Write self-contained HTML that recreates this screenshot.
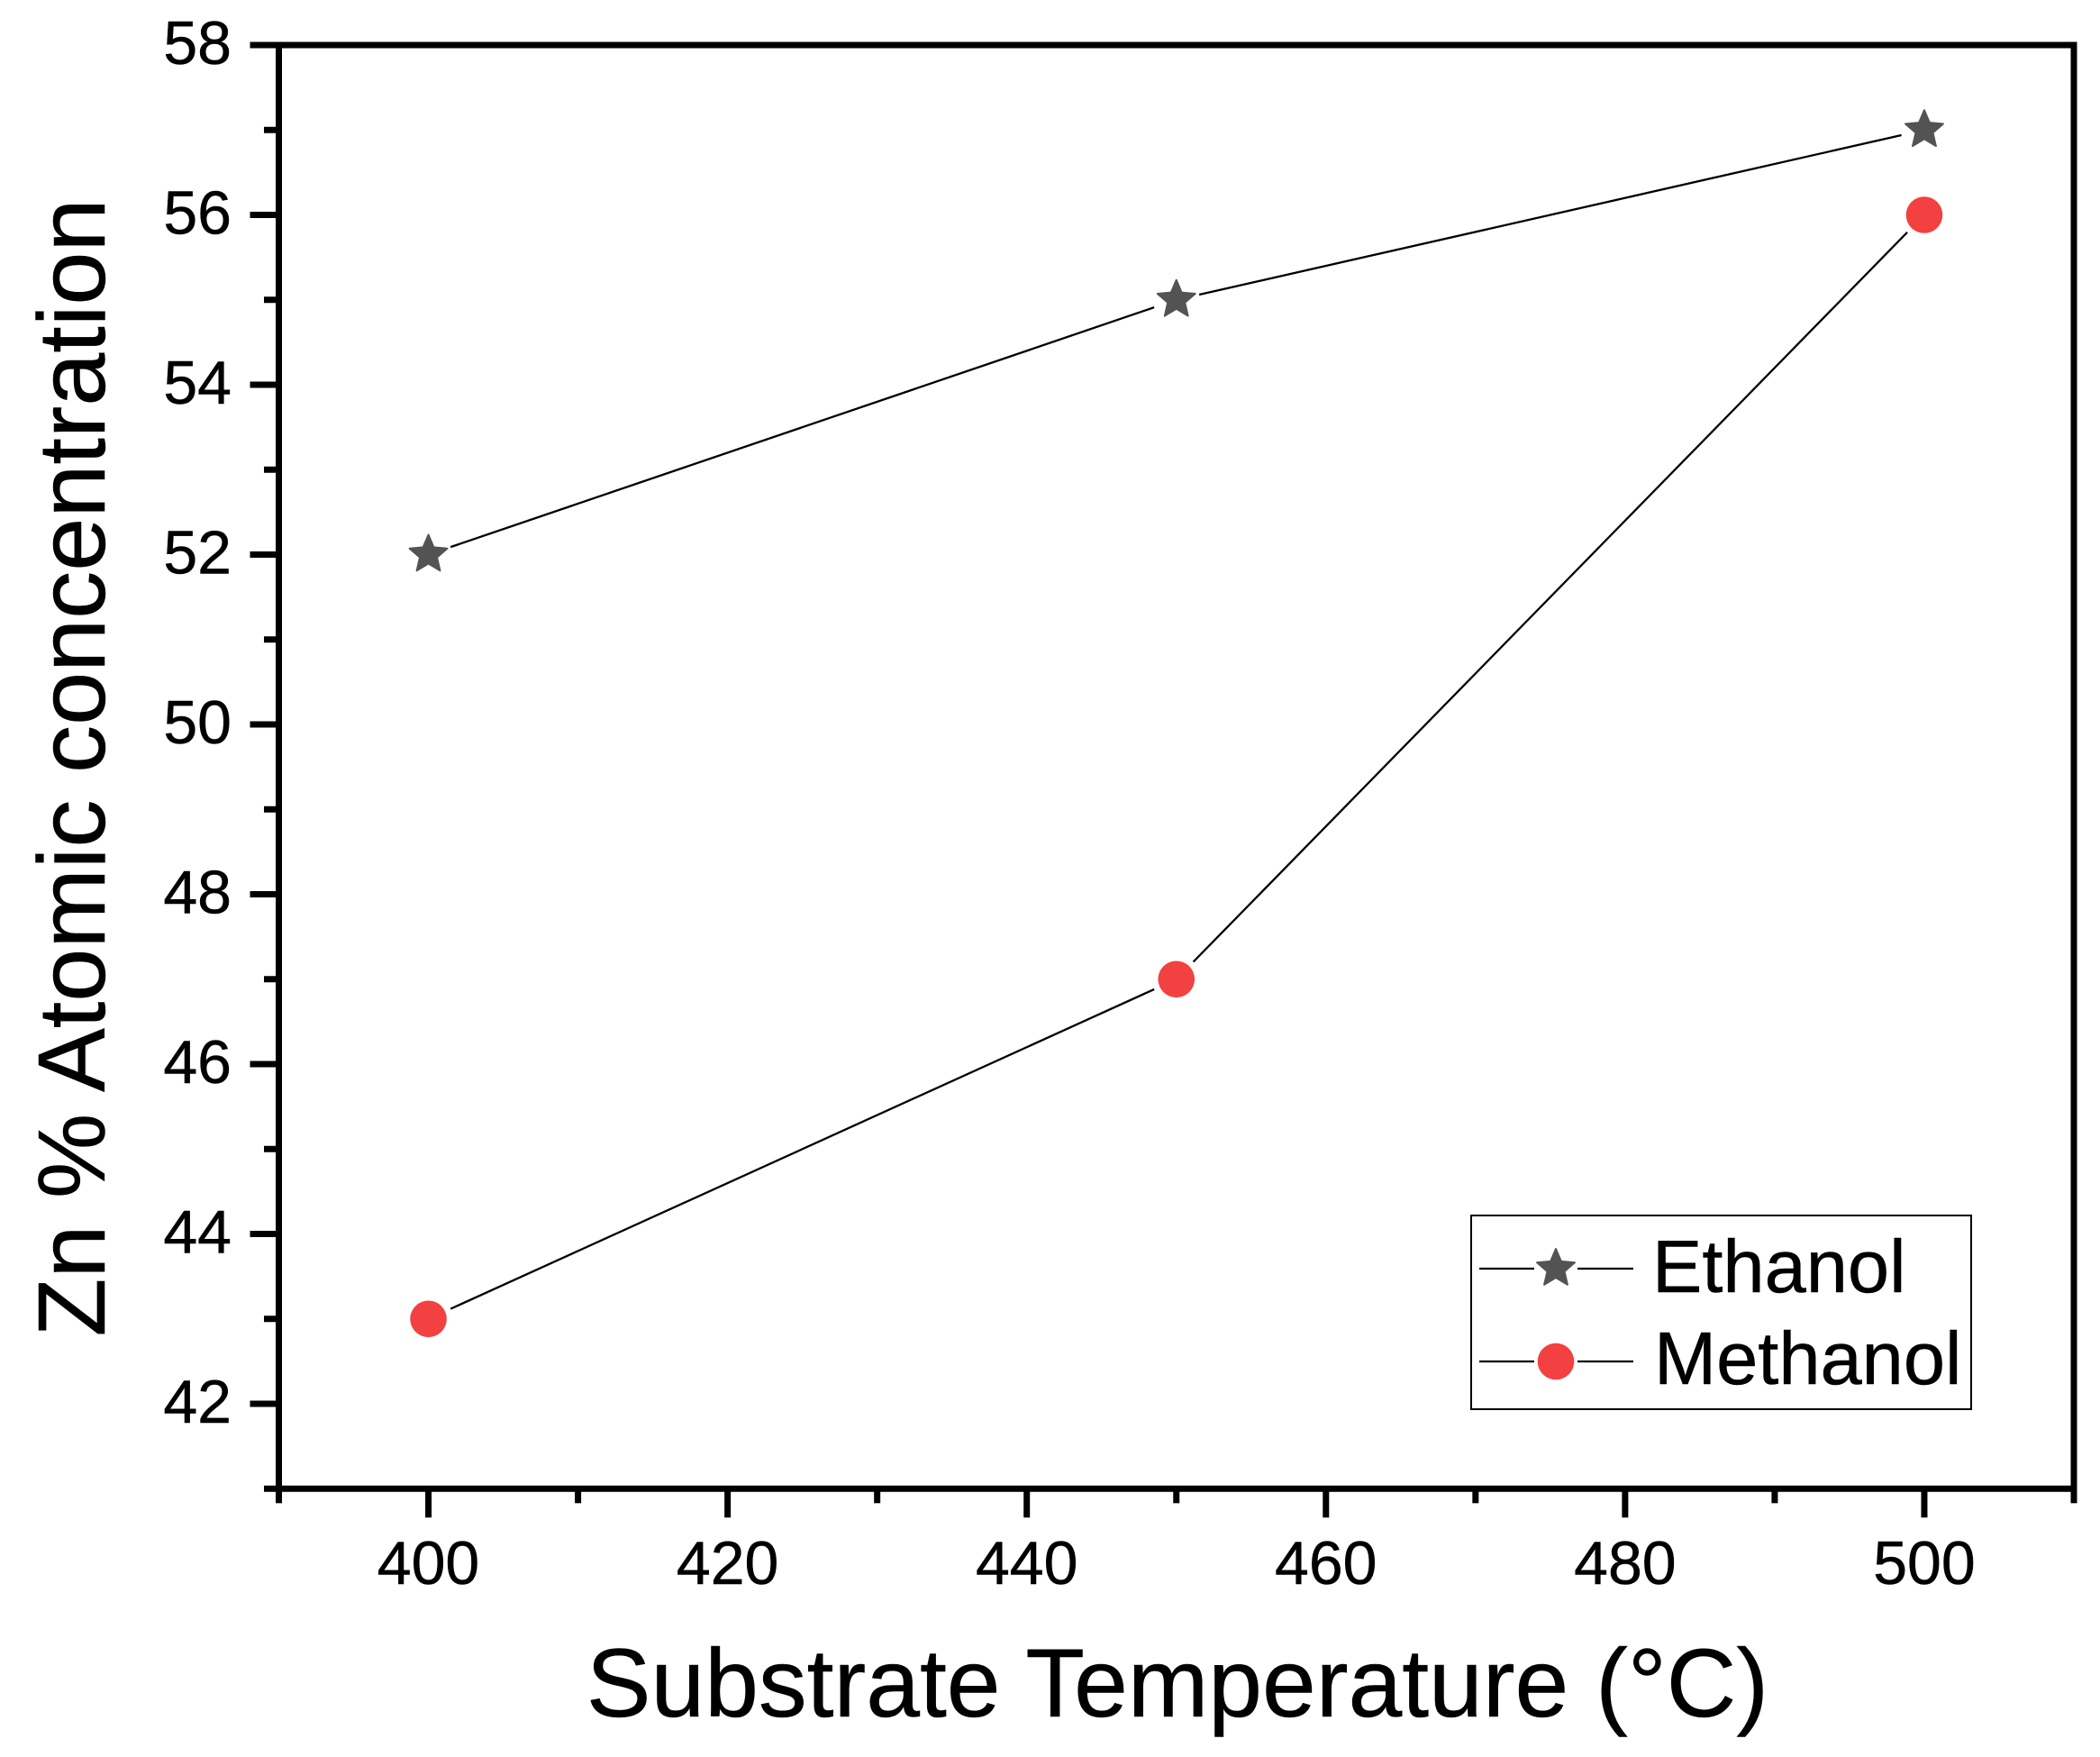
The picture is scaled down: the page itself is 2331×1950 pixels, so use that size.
<!DOCTYPE html>
<html>
<head>
<meta charset="utf-8">
<title>Zn % Atomic concentration vs Substrate Temperature</title>
<style>
html,body{margin:0;padding:0;background:#fff;width:2331px;height:1950px;overflow:hidden}
svg{display:block}
text{font-family:"Liberation Sans",Arial,sans-serif;fill:#000;stroke:#000;stroke-width:0.5px}
</style>
</head>
<body>
<svg id="chart" xmlns="http://www.w3.org/2000/svg" width="2331" height="1950" viewBox="0 0 2331 1950">
  <rect x="0" y="0" width="2331" height="1950" fill="#ffffff"/>
  <g id="series-layer"></g>
  <g id="axes-layer"></g>
  <text x="1307" y="1905" font-size="107.4" text-anchor="middle">Substrate Temperature (°C)</text>
  <text transform="translate(116,852) rotate(-90)" font-size="106.2" text-anchor="middle">Zn % Atomic concentration</text>
  <g>
    <rect x="1633" y="1349" width="555" height="215" fill="#fff" stroke="#000" stroke-width="2"/>
    <g>
      <line x1="1642" y1="1408" x2="1703" y2="1408" stroke="#000" stroke-width="2.3"/>
      <line x1="1751" y1="1408" x2="1813" y2="1408" stroke="#000" stroke-width="2.3"/>
      <polygon id="legend-star" fill="#535353" stroke="#535353" stroke-width="2" stroke-linejoin="round"/>
      <text x="1834" y="1434" font-size="83">Ethanol</text>
    </g>
    <g>
      <line x1="1642" y1="1511" x2="1703" y2="1511" stroke="#000" stroke-width="2.3"/>
      <line x1="1751" y1="1511" x2="1813" y2="1511" stroke="#000" stroke-width="2.3"/>
      <circle cx="1727" cy="1511" r="20.3" fill="#f34040"/>
      <text x="1836" y="1536" font-size="83">Methanol</text>
    </g>
  </g>
</svg>
<script>
// Chart data
const temperatures = [400, 450, 500];
const ethanolValues = [52, 55, 57];
const methanolValues = [43, 47, 56];
const xMajorTicks = [400, 420, 440, 460, 480, 500];
const xMinorTicks = [390, 410, 430, 450, 470, 490, 510];
const yMajorTicks = [42, 44, 46, 48, 50, 52, 54, 56, 58];
const yMinorTicks = [41, 43, 45, 47, 49, 51, 53, 55, 57];
const xDomain = [390, 510];
const yDomain = [41, 58];

const NS = 'http://www.w3.org/2000/svg';
const plotLeft = 309.5, plotRight = 2302, plotTop = 50, plotBottom = 1652.3;
const axisWidth = 7;
const xScale = v => plotLeft + (v - xDomain[0]) / (xDomain[1] - xDomain[0]) * (plotRight - plotLeft);
const yScale = v => plotBottom - (v - yDomain[0]) / (yDomain[1] - yDomain[0]) * (plotBottom - plotTop);

function make(tag, parent, attrs) {
  const el = document.createElementNS(NS, tag);
  for (const k in attrs) el.setAttribute(k, attrs[k]);
  parent.appendChild(el);
  return el;
}
function starPoints(cx, cy, R, r) {
  const pts = [];
  for (let i = 0; i < 10; i++) {
    const rad = i % 2 ? r : R;
    const a = -Math.PI / 2 + i * Math.PI / 5;
    pts.push((cx + rad * Math.cos(a)).toFixed(2) + ',' + (cy + rad * Math.sin(a)).toFixed(2));
  }
  return pts.join(' ');
}
function shortened(x1, y1, x2, y2, g1, g2) {
  const d = Math.hypot(x2 - x1, y2 - y1);
  const ux = (x2 - x1) / d, uy = (y2 - y1) / d;
  return { x1: x1 + ux * g1, y1: y1 + uy * g1, x2: x2 - ux * g2, y2: y2 - uy * g2 };
}

const axes = document.getElementById('axes-layer');
const series = document.getElementById('series-layer');

// Axis frame
const frameEdges = [
  ['axis-left', plotLeft, plotTop, plotLeft, plotBottom],
  ['axis-bottom', plotLeft, plotBottom, plotRight, plotBottom],
  ['axis-top', plotLeft, plotTop, plotRight, plotTop],
  ['axis-right', plotRight, plotTop, plotRight, plotBottom]
];
frameEdges.forEach(edge => {
  const ln = make('line', axes, { x1: edge[1], y1: edge[2], x2: edge[3], y2: edge[4], stroke: '#000', 'stroke-width': axisWidth, 'stroke-linecap': 'square' });
  
  
});

// X ticks
xMajorTicks.forEach(v => {
  const x = xScale(v);
  const t = make('line', axes, { x1: x, y1: plotBottom, x2: x, y2: plotBottom + 32, stroke: '#000', 'stroke-width': axisWidth });
  
  
  const label = make('text', axes, { x: x, y: 1758, 'font-size': 68, 'text-anchor': 'middle' });
  label.textContent = String(v);
  
  
});
xMinorTicks.forEach(v => {
  const x = xScale(v);
  const t = make('line', axes, { x1: x, y1: plotBottom, x2: x, y2: plotBottom + 16, stroke: '#000', 'stroke-width': axisWidth });
  
  
});

// Y ticks
yMajorTicks.forEach(v => {
  const y = yScale(v);
  const t = make('line', axes, { x1: plotLeft, y1: y, x2: plotLeft - 32, y2: y, stroke: '#000', 'stroke-width': axisWidth });
  
  
  const label = make('text', axes, { x: 257, y: y + 21, 'font-size': 68, 'text-anchor': 'end' });
  label.textContent = String(v);
  
  
});
yMinorTicks.forEach(v => {
  const y = yScale(v);
  const t = make('line', axes, { x1: plotLeft, y1: y, x2: plotLeft - 16.5, y2: y, stroke: '#000', 'stroke-width': axisWidth });
  
  
});

// Ethanol series
for (let i = 0; i < temperatures.length - 1; i++) {
  const c = shortened(xScale(temperatures[i]), yScale(ethanolValues[i]), xScale(temperatures[i + 1]), yScale(ethanolValues[i + 1]), 26, 26);
  const seg = make('line', series, { x1: c.x1, y1: c.y1, x2: c.x2, y2: c.y2, stroke: '#000', 'stroke-width': 2.3 });
  
  
}
temperatures.forEach((t, i) => {
  const star = make('polygon', series, { points: starPoints(xScale(t), yScale(ethanolValues[i]), 22, 10), fill: '#535353', stroke: '#535353', 'stroke-width': 2, 'stroke-linejoin': 'round' });
  
  
});

// Methanol series
for (let i = 0; i < temperatures.length - 1; i++) {
  const c = shortened(xScale(temperatures[i]), yScale(methanolValues[i]), xScale(temperatures[i + 1]), yScale(methanolValues[i + 1]), 27, 27);
  const seg = make('line', series, { x1: c.x1, y1: c.y1, x2: c.x2, y2: c.y2, stroke: '#000', 'stroke-width': 2.3 });
  
  
}
temperatures.forEach((t, i) => {
  const dot = make('circle', series, { cx: xScale(t), cy: yScale(methanolValues[i]), r: 20.3, fill: '#f34040' });
  
  
});

document.getElementById('legend-star').setAttribute('points', starPoints(1727, 1408, 22, 10));
</script>
</body>
</html>
